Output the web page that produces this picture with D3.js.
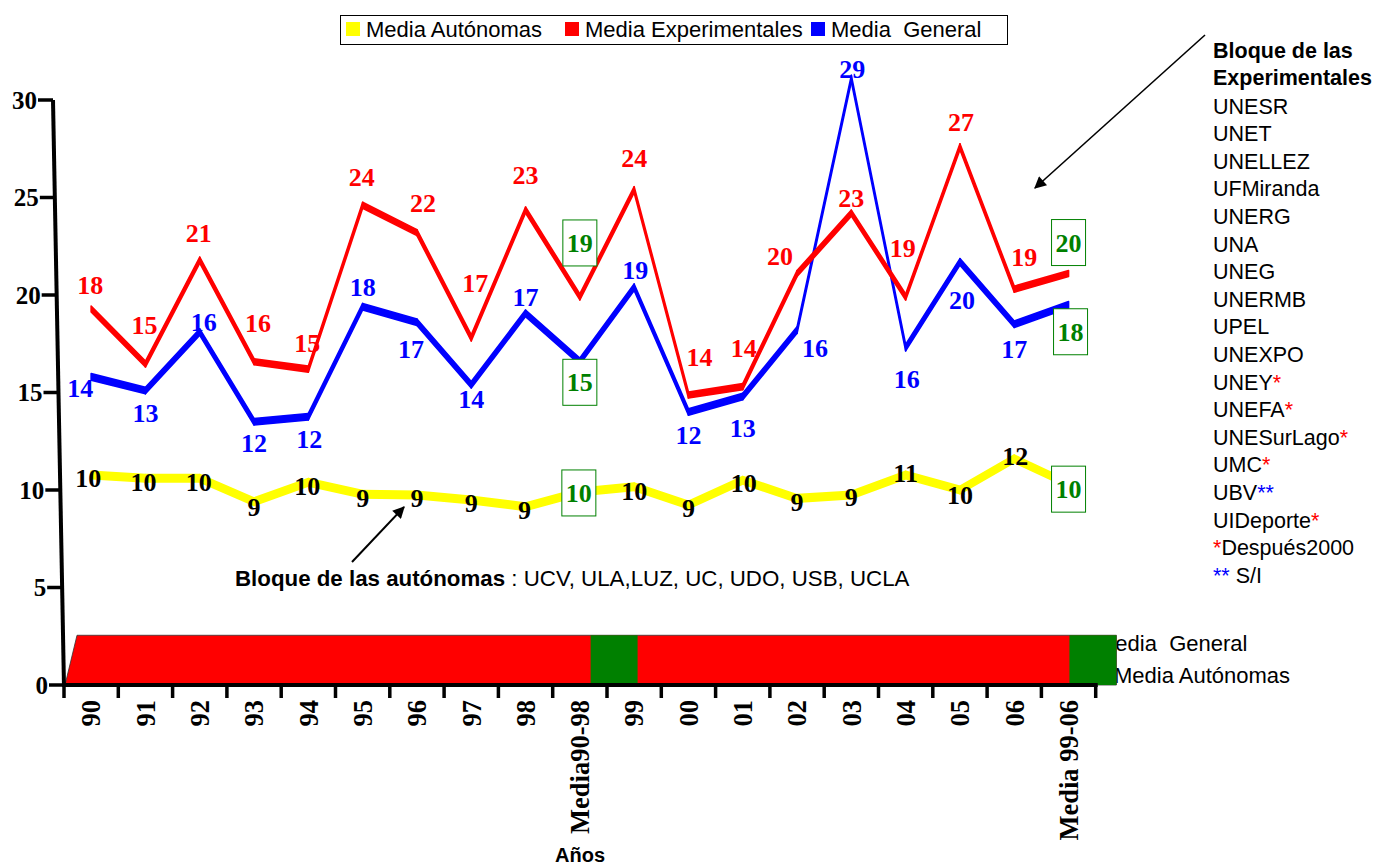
<!DOCTYPE html>
<html><head><meta charset="utf-8">
<script src="https://cdn.jsdelivr.net/npm/d3@7"></script>
<style>body{margin:0;background:#fff}svg{display:block}</style>
</head><body><svg id="c" width="1395" height="865"></svg>
<script>
// ---------- data ----------
const categories = ["90","91","92","93","94","95","96","97","98","Media90-98","99","00","01","02","03","04","05","06","Media 99-06"];
const autonomas      = [10.77,10.6,10.6,9.4,10.4,9.78,9.74,9.49,9.14,9.9,10.17,9.23,10.5,9.57,9.74,10.77,10.0,11.6,10.3];
const experimentales = [19.28,16.46,21.79,16.58,16.2,24.6,23.2,17.8,24.36,19.9,25.4,14.87,15.3,21.1,24.2,19.9,27.6,20.3,21.1];
const general        = [15.8,15.1,18.1,13.5,13.76,19.4,18.6,15.4,19.06,16.6,20.4,14.0,14.8,18.2,31.1,17.3,21.7,18.5,19.5];
const autLabels = [10,10,10,9,10,9,9,9,9,10,10,9,10,9,9,11,10,12,10];
const expLabels = [18,15,21,16,15,24,22,17,23,19,24,14,14,20,23,19,27,19,20];
const genLabels = [14,13,16,12,12,18,17,14,17,15,19,12,13,16,29,16,20,17,18];
const yTicks = [0,5,10,15,20,25,30];
const legendItems = ["Media Autónomas","Media Experimentales","Media  General"];
const experimentalesList = ["UNESR","UNET","UNELLEZ","UFMiranda","UNERG","UNA","UNEG","UNERMB","UPEL","UNEXPO","UNEY*","UNEFA*","UNESurLago*","UMC*","UBV**","UIDeporte*","*Después2000","** S/I"];

// ---------- layout (label placement offsets, px) ----------
const expOff = [[-1,-24],[-1,-39],[-1,-27],[4,-39],[-1,-26],[-1,-28],[6,-30],[4,-55],[0,-35],[0,-54],[0,-32],[11,-38],[1,-39],[-17,-18],[0,-15],[-3,-49],[1,-25],[10,-32],[0,-31]];
const genOff = [[-11,11],[0,22],[4,-10],[0,21],[1,22],[0,-20],[-6,27],[0,14],[0,-16],[0,21],[1,-17],[0,23],[0,31],[18,18],[1,-10],[1,31],[2,38],[0,25],[2,27]];
const autOff = [[-3,3],[-2,4],[-1,4],[0,5],[-1,4],[0,4],[0,3],[0,3],[-1,3],[-1,1],[0,4],[0,3],[1,3],[0,4],[0,2],[0,-2],[0,5],[1,-3],[0,5]];

const RED="#ff0000", BLUE="#0000ff", YEL="#ffff00", GREEN="#008000";
const SERIF="'Liberation Serif','Times New Roman',serif", SANS="'Liberation Sans',Arial,sans-serif";

const svg = d3.select("#c");
const x = d3.scaleBand().domain(categories).range([64, 1095.7]);
const cx = c => x(c) + x.bandwidth()/2;
const y = d3.scaleLinear().domain([0,30]).range([685,100]);
const bandX = d3.scaleBand().domain(categories).range([111.8,1116.4]).paddingInner(0.117).paddingOuter(0);
const isMedia = c => c.startsWith("Media");

// defs
const defs = svg.append("defs");
defs.append("marker").attr("id","ah2").attr("viewBox","0 0 10 10").attr("refX",9).attr("refY",5)
  .attr("markerWidth",16).attr("markerHeight",12).attr("markerUnits","userSpaceOnUse").attr("orient","auto")
  .append("path").attr("d","M0,0L10,5L0,10Z").attr("fill","#000");

// right texts behind band
svg.append("text").attr("x",1097).attr("y",643).attr("dy","0.35em").attr("font-family",SANS).attr("font-size",22)
  .style("white-space","pre").text("Media  General");
svg.append("text").attr("x",1114).attr("y",675).attr("dy","0.35em").attr("font-family",SANS).attr("font-size",22)
  .text("Media Autónomas");

// band
const bandTop = y(2.55), bandRight = bandX.range()[1];
svg.append("path").attr("d",`M${x.range()[0]+1},${y(0)}L${x.range()[0]+13},${bandTop}L${bandRight},${bandTop}L${bandRight},${y(0)}Z`)
  .attr("fill",RED).attr("stroke","#333").attr("stroke-width",0.8);
svg.selectAll("rect.gb").data(categories.filter(isMedia)).join("rect").attr("class","gb")
  .attr("x",d=>bandX(d)).attr("y",bandTop).attr("width",bandX.bandwidth()).attr("height",y(0)-bandTop)
  .attr("fill",GREEN);

// y axis (slanted)
const axX = yy => 64 - 11*(685-yy)/585;
svg.append("line").attr("x1",axX(y(0))).attr("y1",y(0)+2).attr("x2",axX(y(30))).attr("y2",y(30))
  .attr("stroke","#000").attr("stroke-width",4);
yTicks.forEach(t=>{
  const yy=y(t), ax=axX(yy);
  svg.append("line").attr("x1",ax-15).attr("x2",ax).attr("y1",yy).attr("y2",yy).attr("stroke","#000").attr("stroke-width",3.5);
  svg.append("text").attr("x",ax-16).attr("y",yy).attr("dy","0.35em").attr("text-anchor","end")
    .attr("font-family",SERIF).attr("font-weight","bold").attr("font-size",25).text(t);
});

// x axis
svg.append("line").attr("x1",x.range()[0]-2).attr("x2",x.range()[1]+2).attr("y1",y(0)).attr("y2",y(0)).attr("stroke","#000").attr("stroke-width",4);
const bounds = categories.map(c=>x(c)).concat([x.range()[1]]);
bounds.forEach(b=>svg.append("line").attr("x1",b).attr("x2",b).attr("y1",y(0)).attr("y2",y(0)+13).attr("stroke","#000").attr("stroke-width",3.5));
categories.forEach(c=>{
  svg.append("text").attr("transform",`translate(${cx(c)},${y(0)+15}) rotate(-90)`).attr("dy","0.35em")
    .attr("text-anchor","end").attr("font-family",SERIF).attr("font-weight","bold").attr("font-size",26.5).text(c);
});
svg.append("text").attr("x",580).attr("y",855).attr("dy","0.35em").attr("text-anchor","middle")
  .attr("font-family",SANS).attr("font-weight","bold").attr("font-size",20).text("Años");

// ribbons
function ribbon(vals,color,t){
  const pts = vals.map((v,i)=>[cx(categories[i]), y(v)]);
  const g = svg.append("g");
  for(let i=0;i<pts.length-1;i++){
    const [x0,y0]=pts[i],[x1,y1]=pts[i+1];
    g.append("path").attr("d",`M${x0},${y0-t/2}L${x1},${y1-t/2}L${x1},${y1+t/2}L${x0},${y0+t/2}Z`)
      .attr("fill",color).attr("stroke",color).attr("stroke-width",1.6).attr("stroke-linejoin","round");
  }
}
ribbon(general,BLUE,6.5);
ribbon(experimentales,RED,6);
ribbon(autonomas,YEL,7.5);

// labels
function labels(vals,labs,offs,color){
  vals.forEach((v,i)=>{
    const c=categories[i], px=cx(c)+offs[i][0], py=y(v)+offs[i][1];
    const med=isMedia(c);
    if(med){
      svg.append("rect").attr("x",px-17).attr("y",py-23).attr("width",34).attr("height",46)
        .attr("fill","#fff").attr("stroke",GREEN).attr("stroke-width",1);
    }
    svg.append("text").attr("x",px).attr("y",py).attr("dy","0.35em").attr("text-anchor","middle")
      .attr("font-family",SERIF).attr("font-weight","bold").attr("font-size",26)
      .attr("fill",med?GREEN:color).text(labs[i]);
  });
}
labels(general,genLabels,genOff,BLUE);
labels(experimentales,expLabels,expOff,RED);
labels(autonomas,autLabels,autOff,"#000");

// legend
const lg = svg.append("g");
lg.append("rect").attr("x",340.5).attr("y",15.5).attr("width",667).attr("height",29).attr("fill","#fff").attr("stroke","#000");
const lgX=[346,565,811], lgC=[YEL,RED,BLUE];
legendItems.forEach((t,i)=>{
  lg.append("rect").attr("x",lgX[i]).attr("y",22).attr("width",14).attr("height",14).attr("fill",lgC[i]);
  lg.append("text").attr("x",lgX[i]+20).attr("y",29).attr("dy","0.35em").attr("font-family",SANS).attr("font-size",22)
    .style("white-space","pre").text(t);
});

// right block
const rb = svg.append("g").attr("font-family",SANS).attr("font-size",21.5);
rb.append("text").attr("x",1213).attr("y",50).attr("dy","0.35em").attr("font-weight","bold").text("Bloque de las");
rb.append("text").attr("x",1213).attr("y",77.6).attr("dy","0.35em").attr("font-weight","bold").text("Experimentales");
experimentalesList.forEach((s,i)=>{
  const t = rb.append("text").attr("x",1213).attr("y",106+27.6*i).attr("dy","0.35em").style("white-space","pre");
  const m = s.match(/^(\**)([^*]*)(\**)$/);
  const col = (m[1]+m[3]).length===2 ? BLUE : RED;
  if(m[1]) t.append("tspan").attr("fill",col).text(m[1]);
  t.append("tspan").text(m[2]);
  if(m[3]) t.append("tspan").attr("fill",col).text(m[3]);
});

// arrows
svg.append("line").attr("x1",1205).attr("y1",35).attr("x2",1035).attr("y2",188).attr("stroke","#000").attr("stroke-width",1.6).attr("marker-end","url(#ah2)");
svg.append("line").attr("x1",352).attr("y1",562).attr("x2",404).attr("y2",507).attr("stroke","#000").attr("stroke-width",2).attr("marker-end","url(#ah2)");

// autonomas annotation
const an = svg.append("text").attr("x",235).attr("y",578).attr("dy","0.35em").attr("font-family",SANS).attr("font-size",22.3).style("white-space","pre");
an.append("tspan").attr("font-weight","bold").text("Bloque de las autónomas");
an.append("tspan").text(" : UCV, ULA,LUZ, UC, UDO, USB, UCLA");
</script></body></html>
